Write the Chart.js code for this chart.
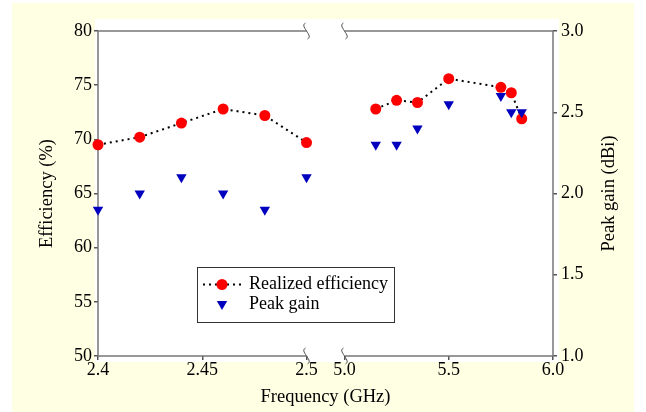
<!DOCTYPE html>
<html>
<head>
<meta charset="utf-8">
<script src="https://cdn.jsdelivr.net/npm/chart.js@4.4.0/dist/chart.umd.min.js"></script>
<style>
  body { margin: 0; background: #fff; }
  #wrap { position: relative; width: 646px; height: 412px; }
  #bg { position: absolute; left: 12px; top: 3px; width: 622px; height: 409px; background: #ffffe3; }
  #myChart { position: absolute; left: 0; top: 0; }
</style>
</head>
<body>
<div id="wrap"><div id="bg"></div><canvas id="myChart" width="646" height="412"></canvas></div>
<script>
// 2.4 GHz band
var lowFreq = [2.40, 2.42, 2.44, 2.46, 2.48, 2.50];
var lowEff = [69.5, 70.2, 71.5, 72.8, 72.2, 69.7];
var lowGain = [1.9, 2.0, 2.1, 2.0, 1.9, 2.1];
// 5 GHz band
var highFreq = [5.15, 5.25, 5.35, 5.50, 5.75, 5.80, 5.85];
var highEff = [72.8, 73.6, 73.4, 75.6, 74.8, 74.3, 71.9];
var highGain = [2.3, 2.3, 2.4, 2.55, 2.6, 2.5, 2.5];

var xTickFreqs = [2.4, 2.45, 2.5, 5.0, 5.5, 6.0];
var xTickLabels = ['2.4', '2.45', '2.5', '5.0', '5.5', '6.0'];

var SERIF = "'Liberation Serif', 'Times New Roman', serif";
var GAP = 0.182; // width of the axis break, in panel units

// both bands share one linear axis: each band is one unit wide
function toU(f) {
    return f < 3 ? (f - 2.4) * 10 : 1 + GAP + (f - 5.0);
}

function bandPoints(lf, lv, hf, hv) {
    var pts = lf.map(function (f, i) { return {x: toU(f), y: lv[i]}; });
    pts.push({x: 1 + GAP / 2, y: null});
    return pts.concat(hf.map(function (f, i) { return {x: toU(f), y: hv[i]}; }));
}

function drawBreak(ctx, x, y) {
    ctx.beginPath();
    ctx.moveTo(x - 1, y - 8);
    ctx.bezierCurveTo(x - 5, y - 6, x - 1, y - 2, x, y);
    ctx.bezierCurveTo(x + 1, y + 2, x + 5, y + 6, x + 1, y + 8);
    ctx.stroke();
}

var framePlugin = {
    id: 'frame',
    beforeDraw: function (chart) {
        var a = chart.chartArea, ctx = chart.ctx;
        ctx.save();
        ctx.fillStyle = '#fff';
        ctx.fillRect(a.left - 3, a.top - 12, a.right - a.left + 9, a.bottom - a.top + 18);
        ctx.restore();
    },
    beforeDatasetsDraw: function (chart) {
        var a = chart.chartArea, ctx = chart.ctx, xs = chart.scales.x;
        var b1 = xs.getPixelForValue(toU(2.5)), b2 = xs.getPixelForValue(toU(5.0));
        ctx.save();
        ctx.strokeStyle = '#777';
        ctx.lineWidth = 1.5;
        ctx.beginPath();
        [a.top, a.bottom].forEach(function (y) {
            ctx.moveTo(a.left, y); ctx.lineTo(b1, y);
            ctx.moveTo(b2, y); ctx.lineTo(a.right, y);
        });
        ctx.moveTo(a.left, a.top); ctx.lineTo(a.left, a.bottom);
        ctx.moveTo(a.right, a.top); ctx.lineTo(a.right, a.bottom);
        ctx.stroke();
        ctx.lineWidth = 1;
        ctx.strokeStyle = '#555';
        [a.top, a.bottom].forEach(function (y) {
            drawBreak(ctx, b1, y);
            drawBreak(ctx, b2, y);
        });
        ctx.restore();
    },
    afterDraw: function (chart) {
        // right axis title reads bottom-to-top, like the left one
        var a = chart.chartArea, ctx = chart.ctx;
        ctx.save();
        ctx.translate(a.right + 56, (a.top + a.bottom) / 2);
        ctx.rotate(-Math.PI / 2);
        ctx.fillStyle = '#000';
        ctx.font = '18.5px ' + SERIF;
        ctx.textAlign = 'center';
        ctx.textBaseline = 'middle';
        ctx.fillText('Peak gain (dBi)', 0, 0);
        ctx.restore();
    }
};

var legendPlugin = {
    id: 'boxLegend',
    afterDraw: function (chart) {
        var ctx = chart.ctx;
        var x = 197, y = 267, w = 197, h = 55;
        ctx.save();
        ctx.fillStyle = '#fff';
        ctx.fillRect(x, y, w, h);
        ctx.strokeStyle = '#333';
        ctx.lineWidth = 1;
        ctx.strokeRect(x + 0.5, y + 0.5, w, h);

        // Realized efficiency
        var y1 = y + 17.5;
        ctx.strokeStyle = '#000';
        ctx.lineWidth = 2;
        ctx.setLineDash([2, 4]);
        ctx.beginPath();
        ctx.moveTo(x + 6, y1); ctx.lineTo(x + 46, y1);
        ctx.stroke();
        ctx.setLineDash([]);
        ctx.fillStyle = 'rgb(255,0,0)';
        ctx.beginPath();
        ctx.arc(x + 25, y1, 5.5, 0, Math.PI * 2);
        ctx.fill();

        // Peak gain
        var y2 = y + 37;
        ctx.fillStyle = 'rgb(0,0,190)';
        ctx.beginPath();
        ctx.moveTo(x + 25 - 5.2, y2 - 3);
        ctx.lineTo(x + 25 + 5.2, y2 - 3);
        ctx.lineTo(x + 25, y2 + 6);
        ctx.closePath();
        ctx.fill();

        ctx.fillStyle = '#000';
        ctx.font = '18px ' + SERIF;
        ctx.textBaseline = 'middle';
        ctx.fillText('Realized efficiency', x + 52, y1);
        ctx.fillText('Peak gain', x + 52, y2);
        ctx.restore();
    }
};

var tickFont = {family: SERIF, size: 18, lineHeight: 1};
var titleFont = {family: SERIF, size: 18.5};

var ctx = document.getElementById('myChart');
var chart = new Chart(ctx, {
    type: 'line',
    data: {
        datasets: [{
            label: 'Peak gain',
            data: bandPoints(lowFreq, lowGain, highFreq, highGain),
            yAxisID: 'y2',
            showLine: false,
            pointStyle: 'triangle',
            pointRotation: 180,
            pointRadius: 6,
            pointBackgroundColor: 'rgb(0,0,190)',
            pointBorderColor: 'rgb(0,0,190)',
            pointBorderWidth: 0,
            clip: false,
            order: 0
        }, {
            label: 'Realized efficiency',
            data: bandPoints(lowFreq, lowEff, highFreq, highEff),
            yAxisID: 'y',
            borderColor: '#000',
            borderWidth: 2,
            borderDash: [2, 4],
            pointRadius: 5.5,
            pointBackgroundColor: 'rgb(255,0,0)',
            pointBorderColor: 'rgb(255,0,0)',
            pointBorderWidth: 0,
            tension: 0,
            clip: false,
            order: 1
        }]
    },
    options: {
        responsive: false,
        animation: false,
        layout: {padding: {left: 36, right: 26, top: 31, bottom: 4}},
        plugins: {
            legend: {display: false},
            tooltip: {enabled: false}
        },
        scales: {
            x: {
                type: 'linear',
                position: 'bottom',
                min: 0,
                max: 2 + GAP,
                afterBuildTicks: function (scale) {
                    scale.ticks = xTickFreqs.map(function (f) { return {value: toU(f)}; });
                },
                afterFit: function (scale) { scale.height = 52; },
                grid: {drawOnChartArea: false, tickLength: 4, color: '#555', lineWidth: 1.5},
                border: {display: false},
                ticks: {
                    padding: 1, color: '#000', font: tickFont, maxRotation: 0, autoSkip: false,
                    callback: function (v, i) { return xTickLabels[i]; }
                },
                title: {display: true, text: 'Frequency (GHz)', color: '#000', font: titleFont, padding: 0}
            },
            y: {
                position: 'left',
                min: 50,
                max: 80,
                afterFit: function (scale) { scale.width = 62; },
                grid: {drawOnChartArea: false, tickLength: 4, color: '#555', lineWidth: 1.5},
                border: {display: false},
                ticks: {stepSize: 5, padding: 2, color: '#000', font: tickFont},
                title: {display: true, text: 'Efficiency (%)', color: '#000', font: titleFont, padding: 0}
            },
            y2: {
                position: 'right',
                min: 1,
                max: 3,
                afterFit: function (scale) { scale.width = 67; },
                grid: {drawOnChartArea: false, tickLength: 4, color: '#555', lineWidth: 1.5},
                border: {display: false},
                ticks: {
                    stepSize: 0.5, padding: 4, color: '#000', font: tickFont,
                    callback: function (v) { return v.toFixed(1); }
                },
                title: {display: false}
            }
        }
    },
    plugins: [framePlugin, legendPlugin]
});
</script>
</body>
</html>
